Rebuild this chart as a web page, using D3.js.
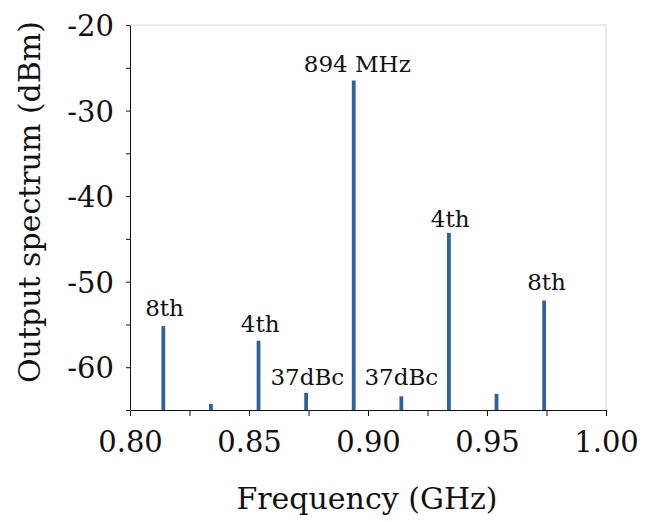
<!DOCTYPE html>
<html>
<head>
<meta charset="utf-8">
<script src="https://cdn.jsdelivr.net/npm/d3@7"></script>
<style>
  body { margin: 0; background: #fff; }
  text { font-family: "DejaVu Serif", serif; fill: #111; }
</style>
</head>
<body>
<div id="chart"></div>
<script>
// peaks (GHz, dBm)
const peakFreq = [0.814, 0.834, 0.854, 0.874, 0.894, 0.914, 0.934, 0.954, 0.974];
const peakDbm = [-55.2, -64.3, -56.9, -63.0, -26.5, -63.4, -44.3, -63.1, -52.2];

// annotations, placed in data units
const noteText = ["8th", "4th", "37dBc", "894 MHz", "37dBc", "4th", "8th"];
const noteFreq = [0.8145, 0.8547, 0.8745, 0.8955, 0.9140, 0.9345, 0.9750];
const noteDbm = [-54.0, -55.9, -62.1, -25.5, -62.1, -43.6, -51.0];

const xTickLabels = [0.80, 0.85, 0.90, 0.95, 1.00];
const yTickLabels = [-20, -30, -40, -50, -60];

const width = 657, height = 522;
const margin = { top: 25, right: 51, bottom: 112, left: 130 };
const w = width - margin.left - margin.right;
const h = height - margin.top - margin.bottom;

var svg = d3.select("#chart")
  .append("svg")
  .attr("width", width)
  .attr("height", height)
  .append("g")
  .attr("transform", "translate(" + margin.left + "," + margin.top + ")");

var x = d3.scaleLinear().domain([0.8, 1.0]).range([0, w]);
var y = d3.scaleLinear().domain([-65, -20]).range([h, 0]);

// light frame top/right
svg.append("path")
  .attr("d", "M0,0H" + w + "V" + h)
  .attr("fill", "none")
  .attr("stroke", "#d9d9d9")
  .attr("stroke-width", 1);

// x axis
var xAxis = svg.append("g")
  .attr("transform", "translate(0," + h + ")")
  .call(d3.axisBottom(x)
    .tickValues(d3.range(0, 9).map(i => 0.8 + i * 0.025))
    .tickSize(6)
    .tickSizeOuter(0)
    .tickFormat(d => xTickLabels.some(v => Math.abs(v - d) < 1e-9) ? d.toFixed(2) : ""));
xAxis.selectAll("text").attr("y", 42).attr("dy", null).style("font-size", "29px");

// y axis
var yAxis = svg.append("g")
  .call(d3.axisLeft(y)
    .tickValues(d3.range(-20, -66, -5))
    .tickSize(4)
    .tickSizeOuter(0)
    .tickFormat(d => yTickLabels.includes(d) ? d : ""));
yAxis.selectAll("text").attr("x", -16).attr("dy", "0.36em").style("font-size", "29px");

svg.selectAll(".domain").attr("stroke", "#111");
svg.selectAll(".tick line").attr("stroke", "#111");

// spectrum lines
svg.append("g")
  .selectAll("line")
  .data(peakFreq)
  .enter()
  .append("line")
  .attr("x1", d => x(d))
  .attr("x2", d => x(d))
  .attr("y1", y(-65))
  .attr("y2", (d, i) => y(peakDbm[i]))
  .attr("stroke", "#2f619d")
  .attr("stroke-width", 3.8);

// annotations
svg.append("g")
  .selectAll("text")
  .data(noteText)
  .enter()
  .append("text")
  .attr("text-anchor", "middle")
  .attr("x", (d, i) => x(noteFreq[i]))
  .attr("y", (d, i) => y(noteDbm[i]))
  .style("font-size", "23px")
  .text(d => d);

// axis titles
svg.append("text")
  .attr("text-anchor", "middle")
  .attr("x", w / 2 - 1)
  .attr("y", h + 99)
  .style("font-size", "30px")
  .text("Frequency (GHz)");

svg.append("text")
  .attr("text-anchor", "middle")
  .attr("transform", "rotate(-90)")
  .attr("x", -177)
  .attr("y", -90)
  .style("font-size", "30px")
  .text("Output spectrum (dBm)");
</script>
</body>
</html>
